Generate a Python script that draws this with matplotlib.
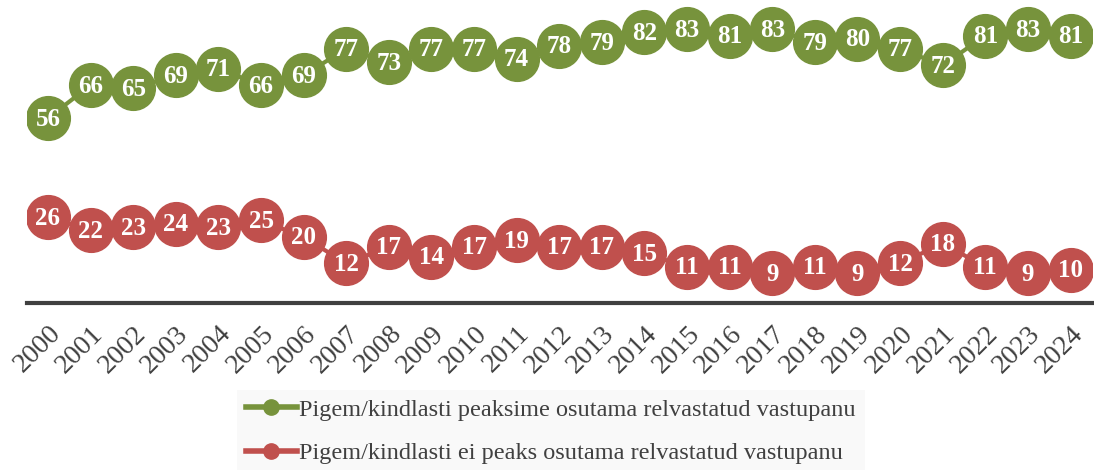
import matplotlib.pyplot as plt

years = [str(y) for y in range(2000, 2025)]
yes_vals = [56, 66, 65, 69, 71, 66, 69, 77, 73, 77, 77, 74, 78, 79, 82, 83, 81, 83, 79, 80, 77, 72, 81, 83, 81]
no_vals = [26, 22, 23, 24, 23, 25, 20, 12, 17, 14, 17, 19, 17, 17, 15, 11, 11, 9, 11, 9, 12, 18, 11, 9, 10]
labels = ["Pigem/kindlasti peaksime osutama relvastatud vastupanu",
          "Pigem/kindlasti ei peaks osutama relvastatud vastupanu"]

green = '#77933C'
red = '#C0504D'

plt.rcParams['font.family'] = ['Liberation Serif', 'DejaVu Serif']

fig = plt.figure(figsize=(10.94, 4.70), dpi=100)
ax = fig.add_axes([0.0244, 0.3553, 0.9736, 0.6447])

x = list(range(len(years)))
for vals, col, lab in [(yes_vals, green, labels[0]), (no_vals, red, labels[1])]:
    ax.plot(x, vals, color=col, lw=3, marker='o', ms=31.5, mec=col, label=lab)
    for xi, v in zip(x, vals):
        ax.text(xi, v - 0.3, str(v), ha='center', va='center', color='white',
                fontsize=18, fontweight='bold')

ax.set_xlim(-0.5, len(years) - 0.5)
ax.set_ylim(0, 91.8)
ax.set_xticks(x)
ax.set_xticklabels(years, rotation=45, ha='right', rotation_mode='anchor',
                   fontsize=20, color='#404040')
ax.tick_params(axis='x', length=0, pad=13)
ax.set_yticks([])
for s in ['top', 'right', 'left']:
    ax.spines[s].set_visible(False)
ax.spines['bottom'].set_color('#404040')
ax.spines['bottom'].set_linewidth(3)

handles = [plt.Line2D([], [], color=green, lw=4, marker='o', ms=11),
           plt.Line2D([], [], color=red, lw=4, marker='o', ms=11)]
leg = fig.legend(handles, labels, loc='upper left', bbox_to_anchor=(237 / 1094, 1 - 390 / 470),
                 fontsize=17.5, frameon=True, facecolor='#F8F8F8', edgecolor='none',
                 fancybox=False, handlelength=2.1, handletextpad=0.12, labelspacing=0.9,
                 borderpad=0.35, borderaxespad=0)
for t in leg.get_texts():
    t.set_color('#404040')

fig.savefig('out.png', dpi=100)
